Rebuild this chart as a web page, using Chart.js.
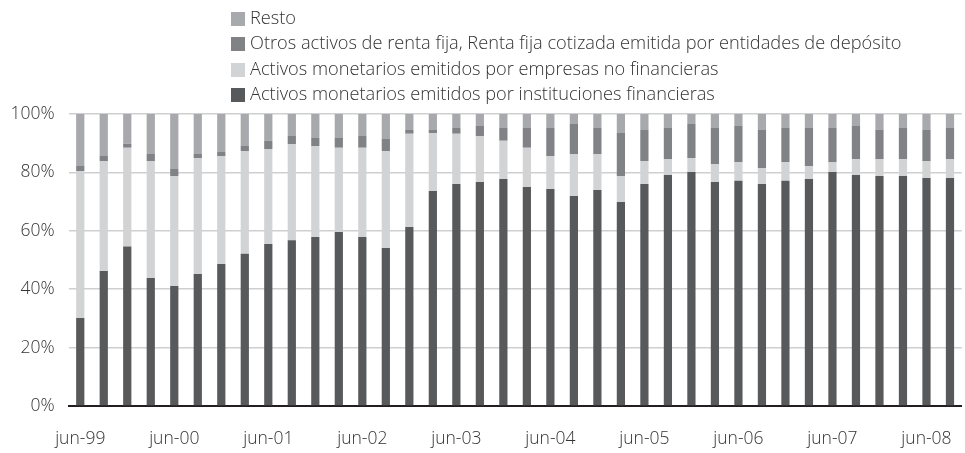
<!DOCTYPE html>
<html>
<head>
<meta charset="utf-8">
<script src="https://cdn.jsdelivr.net/npm/chart.js@4"></script>
<style>
    html, body { margin: 0; padding: 0; background: #fff; }
    #wrap { position: relative; width: 965px; height: 453px; }
    #legend { position: absolute; left: 231px; top: 5px; font-family: 'Open Sans', sans-serif; font-weight: 300; font-size: 18.2px; color: #333; }
    #legend div { height: 25.3px; line-height: 25px; white-space: nowrap; }
    #legend span { display: inline-block; width: 14px; height: 14px; margin-right: 5px; vertical-align: -2px; }
</style>
</head>
<body>
<div id="wrap">
    <canvas id="chart" width="965" height="453"></canvas>
    <div id="legend"></div>
</div>
<script>
const months = ['jun', 'sep', 'dic', 'mar'];
const quarters = [];
for (let i = 0; i < 38; i++) {
    const year = 99 + Math.floor((i + 2) / 4);
    quarters.push(months[i % 4] + '-' + String(year % 100).padStart(2, '0'));
}

const seriesNames = [
    'Activos monetarios emitidos por instituciones financieras',
    'Activos monetarios emitidos por empresas no financieras',
    'Otros activos de renta fija, Renta fija cotizada emitida por entidades de depósito',
    'Resto'
];
const seriesColors = ['#58595b', '#d1d3d4', '#808285', '#a7a9ac'];

const instFinancieras = [30.1, 46.2, 54.6, 43.8, 41.1, 45.2, 48.6, 52.1, 55.5, 56.8, 57.9, 59.6, 57.9, 54.1, 61.3, 73.6, 76.0, 76.7, 77.7, 75.0, 74.3, 71.9, 74.0, 69.9, 76.0, 79.1, 80.1, 76.7, 77.1, 76.0, 77.1, 77.7, 80.1, 79.1, 78.8, 78.8, 78.1, 78.1];
const empNoFinancieras = [50.4, 37.7, 33.8, 40.1, 37.7, 39.7, 37.0, 35.2, 32.5, 32.9, 31.1, 28.8, 30.5, 33.2, 31.9, 19.9, 17.2, 15.8, 13.1, 13.4, 11.3, 14.4, 12.3, 8.9, 7.9, 5.5, 4.8, 6.2, 6.5, 5.5, 6.5, 4.5, 3.5, 5.5, 5.8, 5.8, 5.8, 6.5];
const otrosRentaFija = [1.7, 1.7, 1.4, 2.4, 2.4, 1.4, 1.4, 1.7, 2.8, 2.8, 2.8, 3.4, 4.1, 4.1, 1.3, 1.0, 2.0, 3.4, 4.4, 6.8, 9.6, 10.3, 8.9, 14.7, 10.6, 10.6, 11.7, 12.3, 12.3, 13.0, 11.6, 13.0, 11.6, 11.3, 9.9, 10.6, 10.6, 10.6];
const resto = [17.8, 14.4, 10.2, 13.7, 18.8, 13.7, 13.0, 11.0, 9.2, 7.5, 8.2, 8.2, 7.5, 8.6, 5.5, 5.5, 4.8, 4.1, 4.8, 4.8, 4.8, 3.4, 4.8, 6.5, 5.5, 4.8, 3.4, 4.8, 4.1, 5.5, 4.8, 4.8, 4.8, 4.1, 5.5, 4.8, 5.5, 4.8];

const yTicks = [0, 20, 40, 60, 80, 100];

const seriesData = [instFinancieras, empNoFinancieras, otrosRentaFija, resto];
const FONT = { family: "'Open Sans', sans-serif", size: 17.5, weight: '300' };
const TEXT = '#333';

// legend, top entry is the top of the stack
const legend = document.getElementById('legend');
for (let i = seriesNames.length - 1; i >= 0; i--) {
    const row = document.createElement('div');
    row.innerHTML = `<span style="background:${seriesColors[i]}"></span>${seriesNames[i]}`;
    legend.appendChild(row);
}

new Chart(document.getElementById('chart'), {
    type: 'bar',
    data: {
        labels: quarters,
        datasets: seriesData.map((d, i) => ({
            label: seriesNames[i],
            data: d,
            backgroundColor: seriesColors[i],
            barPercentage: 0.35,
            categoryPercentage: 1
        }))
    },
    options: {
        responsive: false,
        animation: false,
        layout: { padding: { top: 114, left: 0, right: 1.5, bottom: 0 } },
        plugins: {
            legend: { display: false },
            tooltip: { enabled: false }
        },
        scales: {
            x: {
                stacked: true,
                grid: { display: false },
                border: { color: '#231f20', width: 2 },
                ticks: {
                    autoSkip: false,
                    maxRotation: 0,
                    color: TEXT,
                    font: FONT,
                    padding: 15,
                    callback: (v, i) => i % 4 === 0 ? quarters[i] : ''
                },
                afterFit: (scale) => { scale.height = 47; }
            },
            y: {
                stacked: true,
                min: 0,
                max: 100,
                afterBuildTicks: (scale) => { scale.ticks = yTicks.map(v => ({ value: v })); },
                grid: { color: '#cfcfcf', lineWidth: 1.5, drawTicks: false },
                border: { display: false },
                ticks: {
                    color: TEXT,
                    font: FONT,
                    padding: 14,
                    callback: (v) => v + '%'
                },
                afterFit: (scale) => { scale.width = 68.5; }
            }
        }
    }
});
</script>
</body>
</html>
